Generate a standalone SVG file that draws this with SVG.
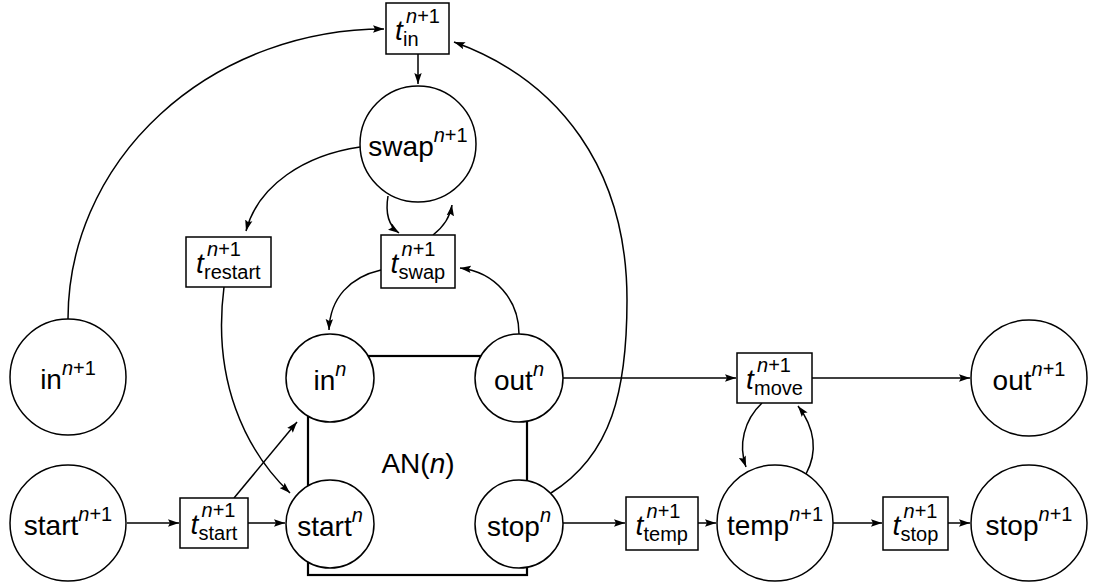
<svg xmlns="http://www.w3.org/2000/svg" width="1099" height="585" viewBox="0 0 1099 585">
<style>
.lbl{font-family:"Liberation Sans",Arial,sans-serif;font-size:28px;fill:#000}
.it{font-style:italic}
.up{font-style:normal}
.sm{font-size:20px}
.node{fill:#fff;stroke:#000;stroke-width:1.5}
.an{fill:none;stroke:#000;stroke-width:2.2}
.edge{fill:none;stroke:#000;stroke-width:1.5;marker-end:url(#ah)}
</style>
<defs>
<marker id="ah" viewBox="0 0 11 8" refX="11" refY="4" markerWidth="11" markerHeight="8" markerUnits="userSpaceOnUse" orient="auto">
<path d="M0,0.3 L11,4 L0,7.7 L2,4 z" fill="#000"/>
</marker>
</defs>
<rect fill="#fff" x="0" y="0" width="1099" height="585"/>
<g id="AN">
<rect class="an" x="308" y="356" width="219" height="219"/>
<text class="lbl" x="418" y="473" text-anchor="middle">AN(<tspan class="it">n</tspan>)</text>
</g>
<g id="connectors">
<path class="edge" d="M68,319 A316,290 0 0 1 384,29"/>
<path class="edge" d="M551,493 C612,455 627,390 627,300 C627,170 560,80 454,42"/>
<path class="edge" d="M418,54 L418,84"/>
<path class="edge" d="M360,147 C305,155 258,185 246,231"/>
<path class="edge" d="M388,196 C385,214 389,226 399,233"/>
<path class="edge" d="M433,235 C442,228 450,218 452,205"/>
<path class="edge" d="M381,270 C350,277 330,298 329,330"/>
<path class="edge" d="M519,334 C519,300 495,272 460,268"/>
<path class="edge" d="M224,287 C212,380 245,450 290,493"/>
<path class="edge" d="M234,498 L297,422"/>
<path class="edge" d="M127,523 L179,523"/>
<path class="edge" d="M248,523 L285,523"/>
<path class="edge" d="M563,378 L736,378"/>
<path class="edge" d="M812,378 L970,378"/>
<path class="edge" d="M563,523 L625,523"/>
<path class="edge" d="M698,523 L716,523"/>
<path class="edge" d="M833,523 L882,523"/>
<path class="edge" d="M948,523 L970,523"/>
<path class="edge" d="M762,403 C744,420 738,445 746,467"/>
<path class="edge" d="M806,474 C818,452 815,428 798,406"/>
</g>
<g id="in_n1">
<circle class="node" cx="68" cy="377" r="58"/>
<text class="lbl" x="68" y="389" text-anchor="middle">in<tspan class="sm it" dy="-14">n</tspan><tspan class="sm">+1</tspan></text>
</g>
<g id="start_n1">
<circle class="node" cx="68" cy="523" r="58"/>
<text class="lbl" x="68" y="535" text-anchor="middle">start<tspan class="sm it" dy="-14">n</tspan><tspan class="sm">+1</tspan></text>
</g>
<g id="swap_n1">
<circle class="node" cx="418" cy="144" r="58"/>
<text class="lbl" x="418" y="156" text-anchor="middle">swap<tspan class="sm it" dy="-14">n</tspan><tspan class="sm">+1</tspan></text>
</g>
<g id="temp_n1">
<circle class="node" cx="775" cy="523" r="58"/>
<text class="lbl" x="775" y="535" text-anchor="middle">temp<tspan class="sm it" dy="-14">n</tspan><tspan class="sm">+1</tspan></text>
</g>
<g id="out_n1">
<circle class="node" cx="1029" cy="378" r="58"/>
<text class="lbl" x="1029" y="390" text-anchor="middle">out<tspan class="sm it" dy="-14">n</tspan><tspan class="sm">+1</tspan></text>
</g>
<g id="stop_n1">
<circle class="node" cx="1029" cy="523" r="58"/>
<text class="lbl" x="1029" y="535" text-anchor="middle">stop<tspan class="sm it" dy="-14">n</tspan><tspan class="sm">+1</tspan></text>
</g>
<g id="in_n">
<circle class="node" cx="330" cy="378" r="44"/>
<text class="lbl" x="330" y="390" text-anchor="middle">in<tspan class="sm it" dy="-14">n</tspan></text>
</g>
<g id="out_n">
<circle class="node" cx="519" cy="378" r="44"/>
<text class="lbl" x="519" y="390" text-anchor="middle">out<tspan class="sm it" dy="-14">n</tspan></text>
</g>
<g id="start_n">
<circle class="node" cx="330" cy="524" r="44"/>
<text class="lbl" x="330" y="536" text-anchor="middle">start<tspan class="sm it" dy="-14">n</tspan></text>
</g>
<g id="stop_n">
<circle class="node" cx="519" cy="524" r="44"/>
<text class="lbl" x="519" y="536" text-anchor="middle">stop<tspan class="sm it" dy="-14">n</tspan></text>
</g>
<g id="t_in">
<rect class="node" x="386" y="3" width="63" height="51"/>
<text class="lbl it" x="395" y="39.5">t</text>
<text class="lbl sm it" x="406" y="22.5">n<tspan class="up">+1</tspan></text>
<text class="lbl sm" x="403" y="45.5">in</text>
</g>
<g id="t_restart">
<rect class="node" x="186" y="237" width="85" height="50"/>
<text class="lbl it" x="196" y="273">t</text>
<text class="lbl sm it" x="207" y="256">n<tspan class="up">+1</tspan></text>
<text class="lbl sm" x="204" y="279">restart</text>
</g>
<g id="t_swap">
<rect class="node" x="381" y="235" width="74" height="53"/>
<text class="lbl it" x="390.5" y="272.5">t</text>
<text class="lbl sm it" x="401.5" y="255.5">n<tspan class="up">+1</tspan></text>
<text class="lbl sm" x="398.5" y="278.5">swap</text>
</g>
<g id="t_start">
<rect class="node" x="180" y="498" width="68" height="50"/>
<text class="lbl it" x="190.5" y="534">t</text>
<text class="lbl sm it" x="201.5" y="517">n<tspan class="up">+1</tspan></text>
<text class="lbl sm" x="198.5" y="540">start</text>
</g>
<g id="t_move">
<rect class="node" x="737" y="353" width="75" height="50"/>
<text class="lbl it" x="746" y="389">t</text>
<text class="lbl sm it" x="757" y="372">n<tspan class="up">+1</tspan></text>
<text class="lbl sm" x="754" y="395">move</text>
</g>
<g id="t_temp">
<rect class="node" x="626" y="497" width="72" height="53"/>
<text class="lbl it" x="635.5" y="534.5">t</text>
<text class="lbl sm it" x="646.5" y="517.5">n<tspan class="up">+1</tspan></text>
<text class="lbl sm" x="643.5" y="540.5">temp</text>
</g>
<g id="t_stop">
<rect class="node" x="883" y="497" width="65" height="53"/>
<text class="lbl it" x="892.5" y="534.5">t</text>
<text class="lbl sm it" x="903.5" y="517.5">n<tspan class="up">+1</tspan></text>
<text class="lbl sm" x="900.5" y="540.5">stop</text>
</g>
</svg>
